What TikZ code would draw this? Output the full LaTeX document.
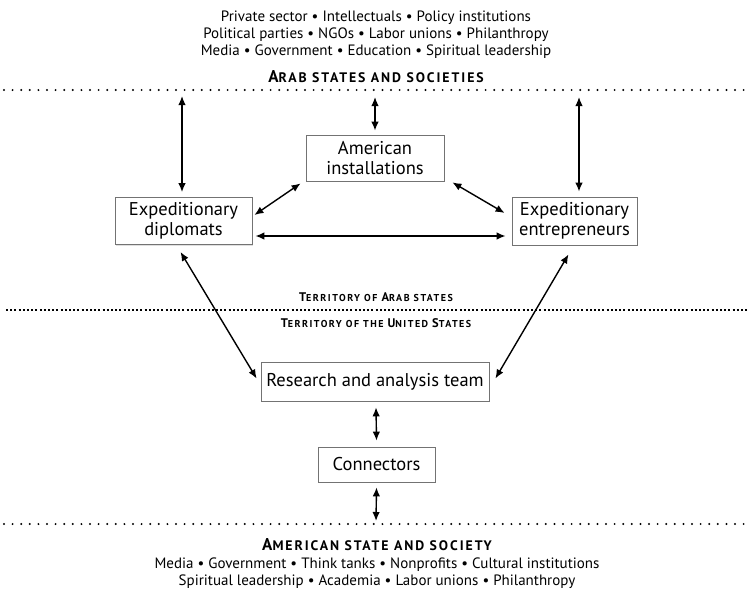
\documentclass[tikz,border=0pt]{standalone}
\usepackage{fontspec}
\setmainfont{PT Sans}
\newfontfamily\headfont[LetterSpace=14]{PT Sans}
\newfontfamily\terfont[LetterSpace=15]{PT Sans}
\usetikzlibrary{arrows.meta,calc,shadows}
\newcommand\bigc[1]{{\fontsize{17}{17}\selectfont #1}}
\newcommand\smc[1]{{\fontsize{13.8}{13.8}\selectfont #1}}
\newcommand\tbig[1]{{\fontsize{12.5}{12.5}\selectfont #1}}
\newcommand\tsmc[1]{{\fontsize{10}{10}\selectfont #1}}
\begin{document}
\begin{tikzpicture}[x=1pt,y=-1pt,
  box/.style={draw=black!55,line width=0.8pt,fill=white,align=center,
    font=\fontsize{18.5}{19.5}\selectfont,inner sep=0pt,
    drop shadow={opacity=0.25,shadow xshift=1pt,shadow yshift=-1pt}},
  arr/.style={{Latex[length=9pt,width=7.5pt]}-{Latex[length=9pt,width=7.5pt]},line width=1.4pt},
  listtxt/.style={font=\fontsize{15}{17}\selectfont,align=center,inner sep=0pt},
  head/.style={inner sep=0pt,font=\headfont\bfseries},
  terhead/.style={inner sep=0pt,font=\terfont\bfseries},
  dotline/.style={line width=2.2pt,line cap=round,dash pattern=on 0pt off 8.6pt},
  sqline/.style={line width=2pt,dash pattern=on 2pt off 2.2pt}]
\useasboundingbox (0,0) rectangle (747,589);
% top texts
\node[listtxt] (toplist) at (376,35) {Private sector • Intellectuals • Policy institutions\\Political parties • NGOs • Labor unions • Philanthropy\\Media • Government • Education • Spiritual leadership};
\node[head] (arab) at (376,77) {\bigc{A}\smc{RAB STATES AND SOCIETIES}};
\draw[dotline] (4,90) -- (747,90);
% territory
\node[terhead] (terA) at (376,297) {\tbig{T}\tsmc{ERRITORY OF }\tbig{A}\tsmc{RAB STATES}};
\draw[sqline] (6,310) -- (747,310);
\node[terhead] (terU) at (376,323) {\tbig{T}\tsmc{ERRITORY OF THE }\tbig{U}\tsmc{NITED }\tbig{S}\tsmc{TATES}};
% bottom
\draw[dotline] (4,524) -- (747,524);
\node[head] (amer) at (377,545) {\bigc{A}\smc{MERICAN STATE AND SOCIETY}};
\node[listtxt] (botlist) at (377,573.5) {Media • Government • Think tanks • Nonprofits • Cultural institutions\\Spiritual leadership • Academia • Labor unions • Philanthropy};
% boxes
\node[box,minimum width=137pt,minimum height=47pt] (dip) at (183.5,221) {Expeditionary\\diplomats};
\node[box,minimum width=138pt,minimum height=46pt] (inst) at (375,158) {American\\installations};
\node[box,minimum width=125pt,minimum height=48pt] (ent) at (574.5,221) {Expeditionary\\entrepreneurs};
\node[box,minimum width=228pt,minimum height=39pt] (res) at (375,381.5) {Research and analysis team};
\node[box,minimum width=117pt,minimum height=35pt] (con) at (376.5,464.5) {Connectors};
% anchor coordinates on lines
\coordinate (t1) at (182,96);
\coordinate (t2) at (375,97);
\coordinate (t3) at (579,97);
\coordinate (b1) at (376,521);
% arrows
\draw[arr] (t1) -- ($(dip.north -| t1)+(0,-5)$);
\draw[arr] (t2) -- ($(inst.north)+(0,-4)$);
\draw[arr] (t3) -- ($(ent.north -| t3)+(0,-5)$);
\draw[arr] ($(dip.east)+(2,-6)$) -- ($(inst.south west)+(-5,2)$);
\draw[arr] ($(inst.south east)+(8,1)$) -- ($(ent.west)+(-7,-8)$);
\draw[arr] ($(dip.east)+(3,15)$) -- ($(ent.west)+(-6,15)$);
\draw[arr] ($(dip.south)+(-3,7)$) -- ($(res.west)+(-4,-3)$);
\draw[arr] ($(ent.south)+(-6,9)$) -- ($(res.east)+(6,-3)$);
\draw[arr] ($(res.south)+(1,6)$) -- ($(con.north)+(0,-6)$);
\draw[arr] ($(con.south)+(0,5)$) -- (b1);
\end{tikzpicture}
\end{document}
